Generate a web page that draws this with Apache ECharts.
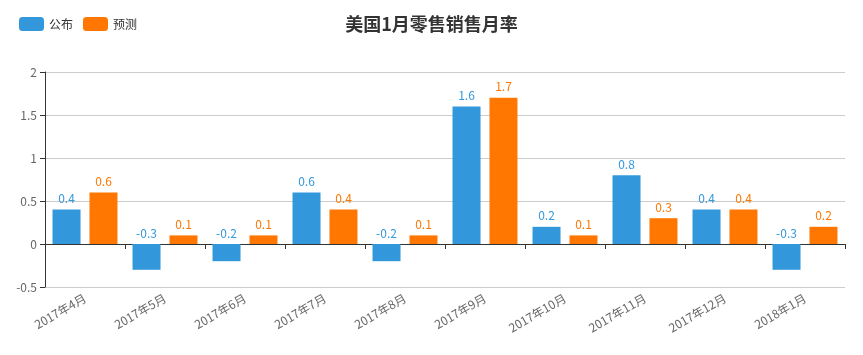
<!DOCTYPE html>
<html><head><meta charset="utf-8">
<script src="https://cdn.jsdelivr.net/npm/echarts@6/dist/echarts.min.js"></script>
<style>html,body{margin:0;padding:0;background:#fff}#c{width:863px;height:355px}</style>
</head><body><div id="c"></div>
<script>
const categories = ['2017年4月','2017年5月','2017年6月','2017年7月','2017年8月','2017年9月','2017年10月','2017年11月','2017年12月','2018年1月'];
const published = [0.4, -0.3, -0.2, 0.6, -0.2, 1.6, 0.2, 0.8, 0.4, -0.3];
const forecast = [0.6, 0.1, 0.1, 0.4, 0.1, 1.7, 0.1, 0.3, 0.4, 0.2];
const yTicks = {min: -0.5, max: 2, interval: 0.5};
const font = '"Noto Sans CJK SC", "Noto Sans", sans-serif';
const chart = echarts.init(document.getElementById('c'));
chart.setOption({
  animation: false,
  color: ['#3398DB', '#FF7700'],
  title: {text: '美国1月零售销售月率', left: 'center', top: 10, textStyle: {fontSize: 18, fontWeight: 'bold', color: '#333', fontFamily: font}},
  legend: {left: 14, top: 12, itemWidth: 25, itemHeight: 14, itemGap: 10, textStyle: {fontSize: 12, color: '#333', fontFamily: font}, data: ['公布', '预测']},
  grid: {left: 45, right: 18, top: 72, bottom: 68, containLabel: false, outerBoundsMode: 'none'},
  xAxis: {type: 'category', data: categories,
    axisLine: {onZero: true, lineStyle: {color: '#333'}},
    axisTick: {show: true, lineStyle: {color: '#333'}},
    axisLabel: {rotate: 30, color: '#666', fontSize: 12, fontFamily: font, margin: 10}},
  yAxis: {type: 'value', min: yTicks.min, max: yTicks.max, interval: yTicks.interval,
    axisLine: {show: true, lineStyle: {color: '#333'}},
    axisTick: {show: true, lineStyle: {color: '#333'}},
    axisLabel: {color: '#666', fontSize: 12, fontFamily: font},
    splitLine: {lineStyle: {color: '#ccc'}}},
  series: [
    {name: '公布', type: 'bar', data: published, barWidth: 28, barGap: '32%',
      label: {show: true, position: 'top', color: '#3398DB', fontSize: 12, fontFamily: font}},
    {name: '预测', type: 'bar', data: forecast, barWidth: 28,
      label: {show: true, position: 'top', color: '#FF7700', fontSize: 12, fontFamily: font}}
  ]
});
</script></body></html>
